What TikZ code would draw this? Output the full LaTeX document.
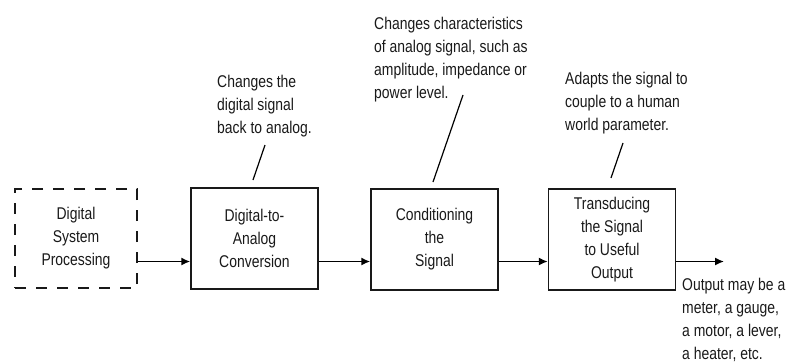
\documentclass[tikz,border=0pt]{standalone}
\usepackage{fontspec}
\setmainfont{Liberation Sans}[FakeStretch=0.82]
\usetikzlibrary{arrows.meta}
\begin{document}
\begin{tikzpicture}[x=1pt,y=-1pt,
  every node/.style={font=\fontsize{17}{23}\selectfont, text=black!90},
  blockbox/.style={draw=black!90, line width=1.5pt, minimum width=127pt, minimum height=101pt, align=center, inner sep=0pt},
  dashbox/.style={blockbox, dash pattern=on 11pt off 10pt, minimum width=122pt, minimum height=99pt},
  note/.style={align=left, anchor=base west, inner sep=0pt},
  flow/.style={line width=1.5pt, -{Latex[length=9pt,width=8pt]}},
  leader/.style={line width=1.2pt}]
\useasboundingbox (0,0) rectangle (787,364);

\node[dashbox] (dsp) at (76,238.5) {Digital\\System\\Processing};
\node[blockbox] (dac) at (254.5,238.5) {Digital-to-\\Analog\\Conversion};
\node[blockbox] (cond) at (434.5,239.5) {Conditioning\\the\\Signal};
\node[blockbox] (trans) at (612,239.5) {Transducing\\the Signal\\to Useful\\Output};

\coordinate (out) at (724,261.5);

\draw[flow] (dsp.east |- 0,261.5) -- (dac.west |- 0,261.5);
\draw[flow] (dac.east |- 0,261.5) -- (cond.west |- 0,261.5);
\draw[flow] (cond.east |- 0,261.5) -- (trans.west |- 0,261.5);
\draw[flow] (trans.east |- 0,261.5) -- (out);

% anchor = baseline of the last line
\node[note] (n1) at (217,133) {Changes the\\digital signal\\back to analog.};
\node[note] (n2) at (374,98) {Changes characteristics\\of analog signal, such as\\amplitude, impedance or\\power level.};
\node[note] (n3) at (565,130) {Adapts the signal to\\couple to a human\\world parameter.};
\node[note] (n4) at (682,359) {Output may be a\\meter, a gauge,\\a motor, a lever,\\a heater, etc.};

\coordinate (l1a) at (265,145);
\coordinate (l1b) at (253,180);
\coordinate (l2a) at (463,95);
\coordinate (l2b) at (433,182);
\coordinate (l3a) at (623,143);
\coordinate (l3b) at (611,178);
\draw[leader] (l1a) -- (l1b);
\draw[leader] (l2a) -- (l2b);
\draw[leader] (l3a) -- (l3b);
\end{tikzpicture}
\end{document}
